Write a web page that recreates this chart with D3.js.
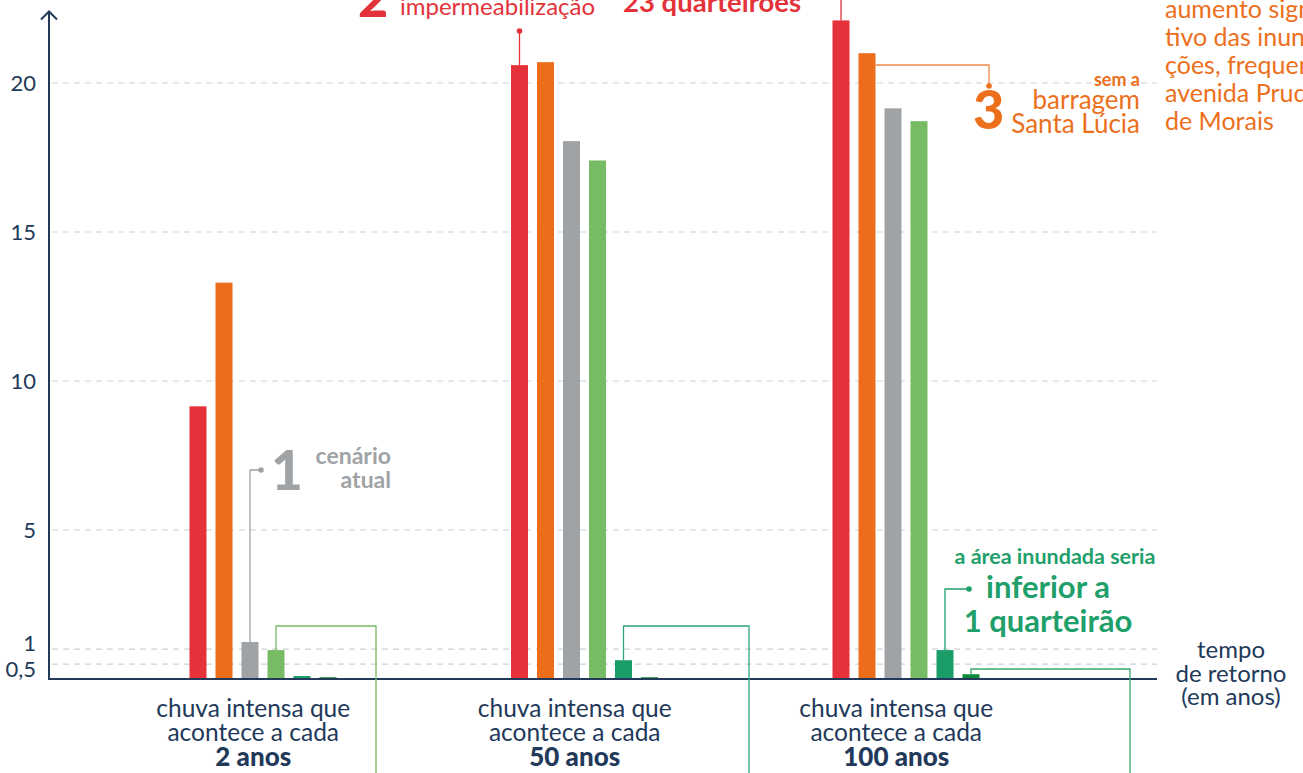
<!DOCTYPE html>
<html><head><meta charset="utf-8">
<script src="https://cdn.jsdelivr.net/npm/d3@7"></script>
<style>
body{margin:0;background:#fff}
svg{display:block;font-family:Lato,"Source Sans Pro","Noto Sans",sans-serif}
</style>
</head><body>
<svg id="c" width="1303" height="773"></svg>
<script>
// ---- data ----
const groups = ["2 anos", "50 anos", "100 anos"];
const seriesNames = ["cenário atual + impermeabilização", "sem a barragem Santa Lúcia", "cenário atual", "cenário 4", "cenário 5", "cenário 6"];
const redValues        = [9.15, 20.6, 22.1];
const orangeValues     = [13.3, 20.7, 21.0];
const grayValues       = [1.24, 18.05, 19.15];
const lightGreenValues = [0.97, 17.4, 18.72];
const tealValues       = [0.1, 0.63, 0.97];
const darkGreenValues  = [0.06, 0.06, 0.16];
const seriesColors = ["#e5323a", "#ec6e1d", "#a0a3a6", "#77bb64", "#1b9d68", "#0f8a3a"];
const yTicks = [0.5, 1, 5, 10, 15, 20];
const yTickLabels = ["0,5", "1", "5", "10", "15", "20"];

const seriesValues = [redValues, orangeValues, grayValues, lightGreenValues, tealValues, darkGreenValues];
const table = groups.map((g, gi) => ({group: g, vals: seriesNames.map((s, si) => ({series: s, si, value: seriesValues[si][gi]}))}));

// ---- scales ----
const navy = "#22395a";
const svg = d3.select("#c");
const y = d3.scaleLinear().domain([0, 20]).range([679, 83]);
const x0 = d3.scaleBand().domain(groups).range([92.5, 1057]);
const x1 = d3.scaleBand().domain(seriesNames).range([97, 244]).paddingInner(0.346);
const cx = (g, si) => x0(g) + x1(seriesNames[si]) + x1.bandwidth() / 2;
const cy = (g, si) => y(seriesValues[si][groups.indexOf(g)]);

// ---- grid ----
svg.append("g").selectAll("line").data(yTicks).join("line")
  .attr("x1", 52).attr("x2", 1157)
  .attr("y1", d => y(d)).attr("y2", d => y(d))
  .attr("stroke", "#cdd1d6").attr("stroke-width", 1.2).attr("stroke-dasharray", "6,5");

// y axis labels
const yAxis = d3.axisLeft(y).tickValues(yTicks).tickSize(0).tickPadding(13)
  .tickFormat((d, i) => yTickLabels[i]);
const ya = svg.append("g").attr("transform", "translate(49,0)").call(yAxis);
ya.select(".domain").remove();
ya.selectAll("text").attr("font-size", 22).attr("fill", navy).attr("font-family", "Lato, sans-serif")
  .attr("dy", d => d === 1 ? "0.08em" : d === 0.5 ? "0.55em" : "0.32em");

// ---- bars ----
svg.append("g").selectAll("g").data(table).join("g")
  .attr("transform", d => `translate(${x0(d.group)},0)`)
  .selectAll("rect").data(d => d.vals).join("rect")
  .attr("x", d => x1(d.series)).attr("width", x1.bandwidth())
  .attr("y", d => y(d.value)).attr("height", d => y(0) - y(d.value))
  .attr("fill", d => seriesColors[d.si]);

// axes lines
svg.append("line").attr("x1", 49).attr("x2", 1157).attr("y1", y(0)).attr("y2", y(0))
  .attr("stroke", navy).attr("stroke-width", 2);
svg.append("line").attr("x1", 49).attr("x2", 49).attr("y1", y(0) + 1).attr("y2", 12)
  .attr("stroke", navy).attr("stroke-width", 2);
svg.append("path").attr("d", "M41,19.5L49,11.5L57,19.5").attr("fill", "none")
  .attr("stroke", navy).attr("stroke-width", 2);

// category labels
const catG = svg.append("g").attr("fill", navy).attr("text-anchor", "middle");
groups.forEach(g => {
  const cxg = x0(g) + x0.bandwidth() / 2;
  const t = catG.append("text").attr("x", cxg).attr("font-size", 24.5);
  t.append("tspan").attr("x", cxg).attr("y", 717).text("chuva intensa que");
  t.append("tspan").attr("x", cxg).attr("y", 741).text("acontece a cada");
  t.append("tspan").attr("x", cxg).attr("y", 766).attr("font-weight", 900).attr("font-size", 26).text(g);
});

// axis title
const tt = svg.append("text").attr("fill", navy).attr("text-anchor", "middle").attr("font-size", 24);
[["tempo", 658], ["de retorno", 682], ["(em anos)", 705]].forEach(([s, yy]) =>
  tt.append("tspan").attr("x", 1231).attr("y", yy).text(s));

// ---- annotations ----
function path(pts, color, w) {
  svg.append("path").attr("d", d3.line()(pts)).attr("fill", "none")
    .attr("stroke", color).attr("stroke-width", w || 1.5);
}
function dot(x, yy, color) {
  svg.append("circle").attr("cx", x).attr("cy", yy).attr("r", 2.8).attr("fill", color);
}
const red = "#e3323a", orange = "#ec6f1c", gray = "#9fa3a6", teal = "#1fa06b";

// 1 - cenário atual
{
  const g = groups[0], x = cx(g, 2);
  path([[x, cy(g, 2)], [x, 470], [261, 470]], gray, 1.3);
  dot(261, 470, gray);
  svg.append("text").attr("x", 271).attr("y", 490).attr("font-size", 55).attr("font-weight", 900)
    .attr("fill", gray).text("1");
  svg.append("text").attr("x", 391).attr("y", 464).attr("text-anchor", "end").attr("font-size", 23)
    .attr("font-weight", 700).attr("fill", gray).text("cenário");
  svg.append("text").attr("x", 391).attr("y", 488).attr("text-anchor", "end").attr("font-size", 23)
    .attr("font-weight", 700).attr("fill", gray).text("atual");
}

// 2 - impermeabilização
{
  const g = groups[1], x = cx(g, 0);
  path([[x, cy(g, 0)], [x, 31]], red, 1.3);
  dot(x, 31, red);
  svg.append("text").attr("x", 358).attr("y", 17).attr("font-size", 52).attr("font-weight", 900)
    .attr("fill", red).text("2");
  svg.append("text").attr("x", 400).attr("y", 15).attr("font-size", 24).attr("fill", red)
    .text("impermeabilização");
  svg.append("text").attr("x", 623).attr("y", 12).attr("font-size", 27.5).attr("font-weight", 700)
    .attr("fill", red).text("23 quarteirões");
  const g3 = groups[2], x3 = cx(g3, 0);
  path([[x3, cy(g3, 0)], [x3, 0]], red, 1.3);
}

// 3 - sem a barragem
{
  const g = groups[2], xr = x0(g) + x1(seriesNames[1]) + x1.bandwidth();
  path([[xr, 65], [989, 65], [989, 86]], "#f0894a", 1.3);
  dot(989, 86, orange);
  svg.append("text").attr("x", 973).attr("y", 129).attr("font-size", 54).attr("font-weight", 900)
    .attr("fill", orange).text("3");
  svg.append("text").attr("x", 1140).attr("y", 86).attr("text-anchor", "end").attr("font-size", 18)
    .attr("font-weight", 700).attr("fill", orange).text("sem a");
  svg.append("text").attr("x", 1140).attr("y", 109).attr("text-anchor", "end").attr("font-size", 26)
    .attr("fill", orange).text("barragem");
  svg.append("text").attr("x", 1140).attr("y", 133).attr("text-anchor", "end").attr("font-size", 26)
    .attr("fill", orange).text("Santa Lúcia");
  const para = ["aumento signifi-", "tivo das inunda-", "ções, frequente na", "avenida Prudente", "de Morais"];
  para.forEach((s, i) => svg.append("text").attr("x", 1165).attr("y", 18 + i * 28)
    .attr("font-size", 25).attr("fill", orange).text(s));
}

// green lines going down
{
  const g1 = groups[0], xa = cx(g1, 3);
  path([[xa, cy(g1, 3)], [xa, 626], [376, 626], [376, 773]], "#77bb64", 1.3);
  const g2 = groups[1], xb = cx(g2, 4);
  path([[xb, cy(g2, 4)], [xb, 626], [749, 626], [749, 773]], "#2ea57a", 1.3);
  const g3 = groups[2], xc = cx(g3, 5);
  path([[xc, cy(g3, 5)], [xc, 669], [1130, 669], [1130, 773]], "#3aa76d", 1.3);
}

// teal annotation
{
  const g = groups[2], x = cx(g, 4);
  path([[x, cy(g, 4)], [x, 589], [969, 589]], teal, 1.3);
  dot(969, 589, teal);
  svg.append("text").attr("x", 1055).attr("y", 564).attr("text-anchor", "middle").attr("font-size", 21.5)
    .attr("font-weight", 700).attr("fill", teal).text("a área inundada seria");
  svg.append("text").attr("x", 1048).attr("y", 598).attr("text-anchor", "middle").attr("font-size", 31)
    .attr("font-weight", 700).attr("fill", teal).text("inferior a");
  svg.append("text").attr("x", 1048).attr("y", 632).attr("text-anchor", "middle").attr("font-size", 31)
    .attr("font-weight", 700).attr("fill", teal).text("1 quarteirão");
}
</script>
</body></html>
